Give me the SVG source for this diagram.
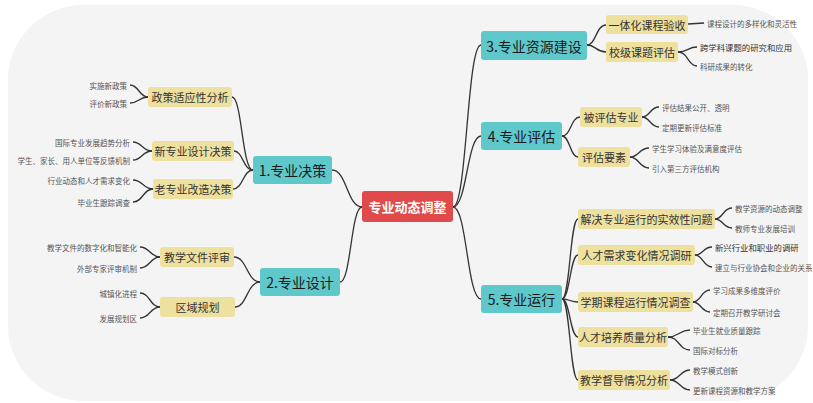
<svg xmlns="http://www.w3.org/2000/svg" width="813" height="403" viewBox="0 0 813 403">
<style>
.l1 rect{fill:#5ec8cb;}
.l1 text{font-family:"Noto Sans CJK SC",sans-serif;font-size:14px;fill:#1a1a1a;dominant-baseline:central;text-anchor:middle;}
.l2 rect{fill:#eee09e;}
.l2 text{font-family:"Noto Sans CJK SC",sans-serif;font-size:11px;fill:#333;dominant-baseline:central;text-anchor:middle;}
.t3{font-family:"Noto Sans CJK SC",sans-serif;font-size:7.5px;fill:#555;dominant-baseline:central;}
.t3b{font-size:8.4px;fill:#333;}
.e{text-anchor:end;}
#connectors path{fill:none;stroke:#333;stroke-width:1.3;}
</style>
<rect x="0" y="0" width="813" height="403" fill="#ffffff"/>
<rect x="8" y="5" width="800" height="396" rx="75" ry="75" fill="#f4f4f4"/>
<g id="connectors">
<path d="M362 207 C347 207 347 170 332 170"/>
<path d="M362 207 C351 207 351 282 340 282"/>
<path d="M453 207 C467 207 467 45 481 45"/>
<path d="M453 207 C467 207 467 136 481 136"/>
<path d="M453 207 C467 207 467 299 481 299"/>
<path d="M253 170 C242 170 242 97 232 97"/>
<path d="M253 170 C243 170 243 151 234 151"/>
<path d="M253 170 C243 170 243 189 233 189"/>
<path d="M260 282 C247 282 247 257 234 257"/>
<path d="M260 282 C247 282 247 307 235 307"/>
<path d="M587 45 C596 45 596 25 606 25"/>
<path d="M587 45 C596 45 596 52 606 52"/>
<path d="M562 136 C571 136 571 117 580 117"/>
<path d="M562 136 C570 136 570 157 578 157"/>
<path d="M562 299 C570 299 570 219 578 219"/>
<path d="M562 299 C570 299 570 255 578 255"/>
<path d="M562 299 C570 299 570 302 578 302"/>
<path d="M562 299 C570 299 570 337 578 337"/>
<path d="M562 299 C570 299 570 380 578 380"/>
<path d="M148 97 C139 97 139 85 130 85"/>
<path d="M148 97 C139 97 139 103 130 103"/>
<path d="M152 151 C142 151 142 142 133 142"/>
<path d="M152 151 C142 151 142 160 133 160"/>
<path d="M153 189 C143 189 143 180 133 180"/>
<path d="M153 189 C143 189 143 202 133 202"/>
<path d="M160 257 C150 257 150 247 140 247"/>
<path d="M160 257 C150 257 150 268 140 268"/>
<path d="M160 307 C150 307 150 293 140 293"/>
<path d="M160 307 C150 307 150 318 140 318"/>
<path d="M688 24 L704 23"/>
<path d="M678 52 C688 52 688 47 697 47"/>
<path d="M678 52 C688 52 688 66 697 66"/>
<path d="M642 117 C650 117 650 107 659 107"/>
<path d="M642 117 C650 117 650 127 659 127"/>
<path d="M630 157 C639 157 639 148 649 148"/>
<path d="M630 157 C639 157 639 168 649 168"/>
<path d="M715 219 C723 219 723 208 732 208"/>
<path d="M715 219 C723 219 723 228 732 228"/>
<path d="M695 255 C703 255 703 247 712 247"/>
<path d="M695 255 C703 255 703 267 712 267"/>
<path d="M693 302 C701 302 701 290 710 290"/>
<path d="M693 302 C701 302 701 312 710 312"/>
<path d="M668 337 C679 337 679 330 690 330"/>
<path d="M668 337 C679 337 679 350 690 350"/>
<path d="M670 380 C680 380 680 370 690 370"/>
<path d="M670 380 C680 380 680 390 690 390"/>
</g>
<g id="center"><rect x="362" y="191" width="91" height="31" rx="3" fill="#e04a4a"/><text x="407.5" y="206.5" font-family="Noto Sans CJK SC,sans-serif" font-size="13" font-weight="bold" fill="#fff" text-anchor="middle" dominant-baseline="central">专业动态调整</text></g>
<g id="n1" class="l1"><rect x="253" y="156" width="79" height="28" rx="3"/><text x="292.5" y="170">1.专业决策</text></g>
<g id="n2" class="l1"><rect x="260" y="268" width="80" height="28" rx="3"/><text x="300" y="282">2.专业设计</text></g>
<g id="n3" class="l1"><rect x="481" y="31" width="106" height="29" rx="3"/><text x="534" y="45.5">3.专业资源建设</text></g>
<g id="n4" class="l1"><rect x="481" y="122" width="81" height="28" rx="3"/><text x="521.5" y="136">4.专业评估</text></g>
<g id="n5" class="l1"><rect x="481" y="285" width="81" height="28" rx="3"/><text x="521.5" y="299">5.专业运行</text></g>
<g id="n11" class="l2"><rect x="148" y="87" width="84" height="20" rx="3"/><text x="190" y="97">政策适应性分析</text></g>
<g id="n12" class="l2"><rect x="152" y="141" width="82" height="20" rx="3"/><text x="193" y="151">新专业设计决策</text></g>
<g id="n13" class="l2"><rect x="153" y="179" width="80" height="20" rx="3"/><text x="193" y="189">老专业改造决策</text></g>
<g id="n21" class="l2"><rect x="160" y="247" width="74" height="20" rx="3"/><text x="197" y="257">教学文件评审</text></g>
<g id="n22" class="l2"><rect x="160" y="297" width="75" height="20" rx="3"/><text x="197.5" y="307">区域规划</text></g>
<g id="n31" class="l2"><rect x="606" y="15" width="82" height="19" rx="3"/><text x="647" y="24.5">一体化课程验收</text></g>
<g id="n32" class="l2"><rect x="606" y="42" width="72" height="20" rx="3"/><text x="642" y="52">校级课题评估</text></g>
<g id="n41" class="l2"><rect x="580" y="107" width="62" height="20" rx="3"/><text x="611" y="117">被评估专业</text></g>
<g id="n42" class="l2"><rect x="578" y="147" width="52" height="20" rx="3"/><text x="604" y="157">评估要素</text></g>
<g id="n51" class="l2"><rect x="578" y="209" width="137" height="20" rx="3"/><text x="646.5" y="219">解决专业运行的实效性问题</text></g>
<g id="n52" class="l2"><rect x="578" y="245" width="117" height="20" rx="3"/><text x="636.5" y="255">人才需求变化情况调研</text></g>
<g id="n53" class="l2"><rect x="578" y="292" width="115" height="20" rx="3"/><text x="635.5" y="302">学期课程运行情况调查</text></g>
<g id="n54" class="l2"><rect x="578" y="327" width="90" height="20" rx="3"/><text x="623" y="337">人才培养质量分析</text></g>
<g id="n55" class="l2"><rect x="578" y="370" width="92" height="20" rx="3"/><text x="624" y="380">教学督导情况分析</text></g>
<g id="leaves">
<text class="t3 e" x="127" y="85">实施新政策</text>
<text class="t3 e" x="127" y="103">评价新政策</text>
<text class="t3 e" x="130" y="142">国际专业发展趋势分析</text>
<text class="t3 e" x="130" y="160">学生、家长、用人单位等反馈机制</text>
<text class="t3 e" x="130" y="180">行业动态和人才需求变化</text>
<text class="t3 e" x="130" y="202">毕业生跟踪调查</text>
<text class="t3 e" x="137" y="247">教学文件的数字化和智能化</text>
<text class="t3 e" x="137" y="268">外部专家评审机制</text>
<text class="t3 e" x="137" y="293">城镇化进程</text>
<text class="t3 e" x="137" y="318">发展规划区</text>
<text class="t3" x="707" y="23">课程设计的多样化和灵活性</text>
<text class="t3 t3b" x="700" y="47">跨学科课题的研究和应用</text>
<text class="t3" x="700" y="66">科研成果的转化</text>
<text class="t3" x="662" y="107">评估结果公开、透明</text>
<text class="t3" x="662" y="127">定期更新评估标准</text>
<text class="t3" x="652" y="148">学生学习体验及满意度评估</text>
<text class="t3" x="652" y="168">引入第三方评估机构</text>
<text class="t3" x="735" y="208">教学资源的动态调整</text>
<text class="t3" x="735" y="228">教师专业发展培训</text>
<text class="t3 t3b" x="715" y="247">新兴行业和职业的调研</text>
<text class="t3" x="715" y="267">建立与行业协会和企业的关系</text>
<text class="t3" x="713" y="290">学习成果多维度评价</text>
<text class="t3" x="713" y="312">定期召开教学研讨会</text>
<text class="t3" x="693" y="330">毕业生就业质量跟踪</text>
<text class="t3" x="693" y="350">国际对标分析</text>
<text class="t3" x="693" y="370">教学模式创新</text>
<text class="t3" x="693" y="390">更新课程资源和教学方案</text>
</g>
</svg>
